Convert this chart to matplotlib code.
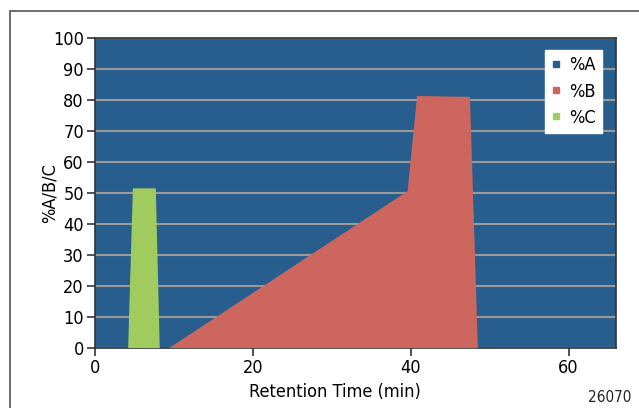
import matplotlib
matplotlib.use("Agg")
import matplotlib.pyplot as plt
from matplotlib.patches import Rectangle
from matplotlib.lines import Line2D

plt.rcParams['font.family'] = ['DejaVu Sans']
plt.rcParams['font.stretch'] = 'condensed'

# Gradient program (time in min, percent)
time_b = [9.4, 39.6, 40.8, 47.5, 48.5]
pct_b = [0, 50.6, 81.3, 81.0, 0]
time_c = [4.2, 4.8, 7.7, 8.2]
pct_c = [0, 51.5, 51.5, 0]
series = ['%A', '%B', '%C']
colors = ['#285e8e', '#cc665f', '#a0cc5f']
yticks = list(range(0, 101, 10))
xticks = [0, 20, 40, 60]

fig = plt.figure(figsize=[6.39, 4.08], dpi=100)
# outer frame of the figure
fig.patches.append(Rectangle((10 / 639, -0.1), 1.2, 1 - 11 / 408 + 0.1,
                             transform=fig.transFigure, fill=False,
                             edgecolor='#555555', linewidth=1.2))
ax = fig.add_axes([95 / 639, 60 / 408, 521 / 639, 310 / 408])
ax.set_facecolor(colors[0])

ax.fill(time_b, pct_b, color=colors[1], zorder=3, linewidth=0)
ax.fill(time_c, pct_c, color=colors[2], zorder=3, linewidth=0)

ax.set_xlim(0, 66)
ax.set_ylim(0, 100)
ax.set_xticks(xticks)
ax.set_yticks(yticks)
ax.yaxis.grid(True, color='#9a9a9a', linewidth=1.5, zorder=2)
ax.tick_params(labelsize=13, color='#333333', length=6, width=1.2, pad=2)
for s in ax.spines.values():
    s.set_color('#333333')
    s.set_linewidth(1.2)

ax.set_xlabel('Retention Time (min)', fontsize=13)
ax.xaxis.set_label_coords(0.46, -0.112)
ax.set_ylabel('%A/B/C', fontsize=13)
ax.yaxis.set_label_coords(-0.07, 0.5)

handles = [Line2D([], [], marker='s', linestyle='', color=c, markersize=5)
           for c in colors]
leg = ax.legend(handles, series, loc='upper right', bbox_to_anchor=(0.973, 0.961),
                frameon=True, fancybox=False, framealpha=1, edgecolor='white',
                fontsize=13, handletextpad=0.4, borderpad=0.35, labelspacing=0.45,
                handlelength=0.6, borderaxespad=0)
leg.set_zorder(5)

fig.text(610 / 639, 1 - 397 / 408, '26070', fontsize=11, ha='center', va='center',
         color='#222222')

fig.savefig('out.png', dpi=100)
